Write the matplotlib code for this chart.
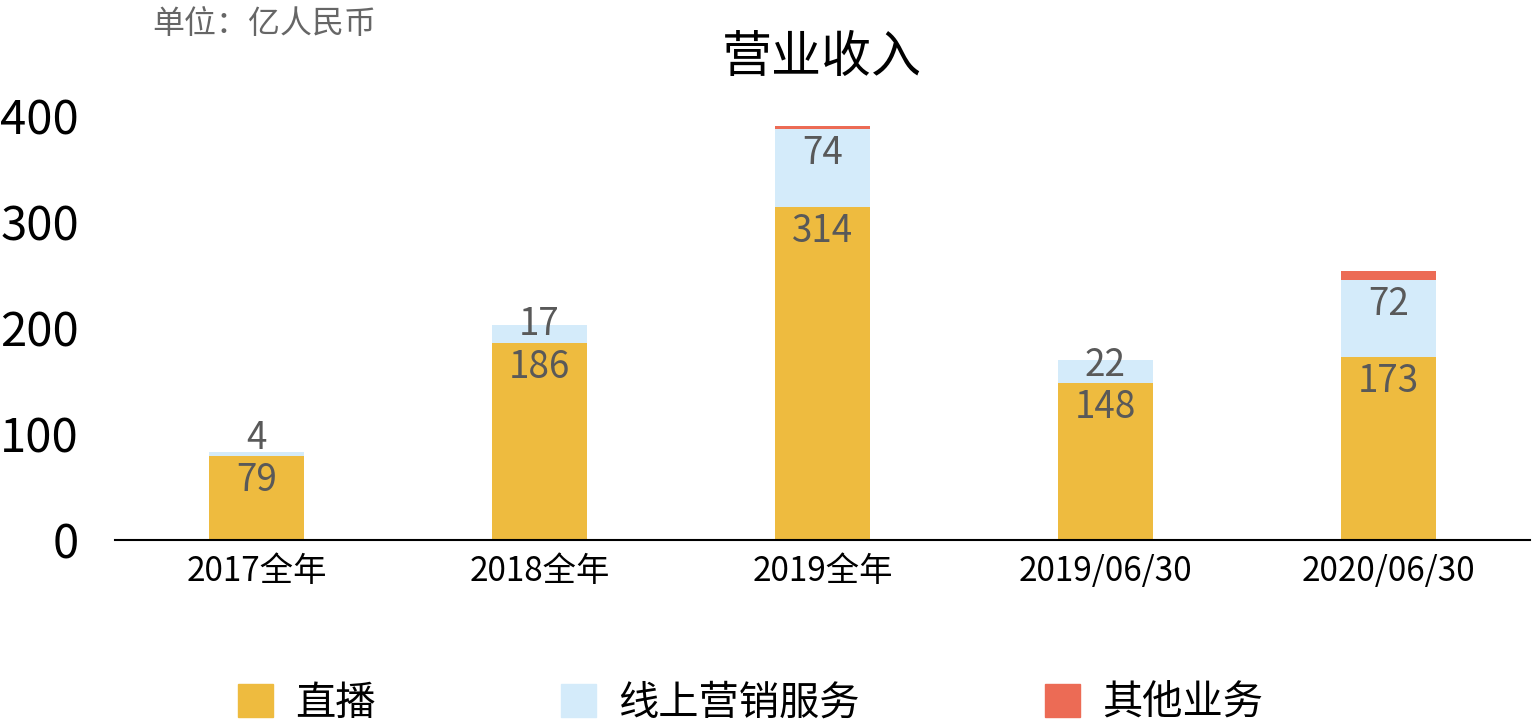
import matplotlib.pyplot as plt
from matplotlib.patches import Patch

plt.rcParams['font.family'] = ['Noto Sans CJK SC', 'DejaVu Sans']

categories = ['2017全年', '2018全年', '2019全年', '2019/06/30', '2020/06/30']
live = [79, 186, 314, 148, 173]
marketing = [4, 17, 74, 22, 72]
other = [0, 0, 3, 0, 9]
series_names = ['直播', '线上营销服务', '其他业务']
colors = ['#EEBB3F', '#D4EBFA', '#EC6B55']
label_color = '#595959'

fig = plt.figure(figsize=(15.32, 7.24), dpi=100)
ax = fig.add_axes([115 / 1532, 184 / 724, 1415 / 1532, 443 / 724])

x = range(len(categories))
w = 0.335
ax.bar(x, live, w, color=colors[0])
bottom2 = live
ax.bar(x, marketing, w, bottom=bottom2, color=colors[1])
bottom3 = [a + b for a, b in zip(live, marketing)]
ax.bar(x, other, w, bottom=bottom3, color=colors[2])

# value labels: near the top of each segment, pushed up if the segment is thin
for i in x:
    for val, bot in [(live[i], 0), (marketing[i], live[i])]:
        top = bot + val
        y = max(top - 23, bot + 17)
        ax.text(i, y, str(val), ha='center', va='center', fontsize=26.5, color=label_color)

ax.set_xlim(-0.5, len(categories) - 0.5)
ax.set_ylim(0, 418)
ax.set_yticks([0, 100, 200, 300, 400])
ax.set_xticks(list(x))
ax.set_xticklabels(categories, fontsize=24)
ax.tick_params(axis='y', length=0, labelsize=34, pad=26)
ax.tick_params(axis='x', length=0, pad=10)
for s in ['top', 'right', 'left']:
    ax.spines[s].set_visible(False)
ax.spines['bottom'].set_linewidth(1.5)

fig.text(822 / 1532, 1 - 58 / 724, '营业收入', ha='center', va='center', fontsize=36, color='black')
fig.text(152 / 1532, 1 - 24 / 724, '单位：亿人民币', ha='left', va='center', fontsize=23, color='#666666')

handles = [Patch(color=c) for c in colors]
fig.legend(handles, series_names, loc='center', bbox_to_anchor=(0.49, 1 - 703 / 724), ncol=3,
           frameon=False, fontsize=29, handlelength=0.87, handleheight=0.87,
           handletextpad=0.55, columnspacing=4.6)

fig.savefig('out.png', dpi=100)
